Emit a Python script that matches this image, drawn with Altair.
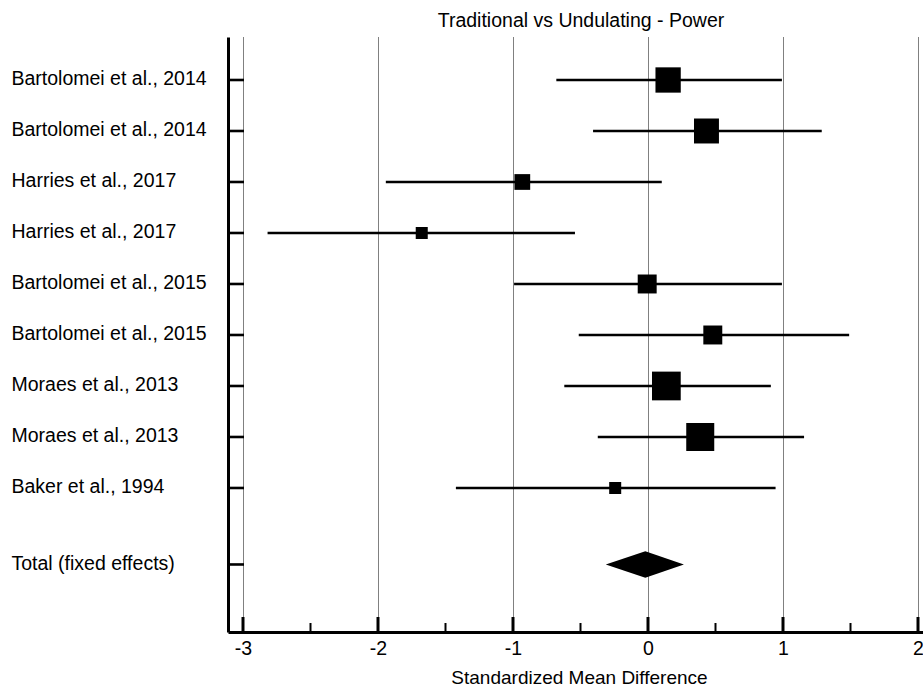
import altair as alt
import pandas as pd

# Study-level results: standardized mean difference with 95% CI and weight (%)
studies = [
    "Bartolomei et al., 2014",
    "Bartolomei et al., 2014",
    "Harries et al., 2017",
    "Harries et al., 2017",
    "Bartolomei et al., 2015",
    "Bartolomei et al., 2015",
    "Moraes et al., 2013",
    "Moraes et al., 2013",
    "Baker et al., 1994",
]
smd = [0.149, 0.433, -0.931, -1.676, -0.006, 0.480, 0.136, 0.387, -0.243]
ci_low = [-0.679, -0.407, -1.942, -2.818, -0.992, -0.513, -0.620, -0.372, -1.423]
ci_high = [0.992, 1.287, 0.102, -0.541, 0.992, 1.490, 0.910, 1.156, 0.945]
weights = [15.5, 15.1, 6.0, 3.5, 8.7, 8.7, 20.0, 19.0, 3.5]

# Pooled estimate
total_label = "Total (fixed effects)"
total_smd = -0.020
total_low = -0.313
total_high = 0.266

# Axis ticks
x_major = [-3, -2, -1, 0, 1, 2]
x_minor = [-2.5, -1.5, -0.5, 0.5, 1.5]

FONT = "Liberation Sans"
FS = 19.5
W, H = 695, 595
PX_PER_UNIT = 135  # whole pixels per unit keeps the dotted grid crisp

# Row positions: one row per study, the pooled row sits one and a half rows below
rows = list(range(1, len(studies) + 1))
total_row = len(studies) + 1.5
label_rows = rows + [total_row]
label_names = studies + [total_label]

studies_df = pd.DataFrame({
    "row": rows, "study": studies, "smd": smd,
    "lo": ci_low, "hi": ci_high, "weight": weights,
})

half_h = 0.26  # half height of the pooled diamond, in rows
diamond_df = pd.DataFrame({
    "x": [total_low, total_smd, total_high],
    "top": [total_row, total_row - half_h, total_row],
    "bot": [total_row, total_row + half_h, total_row],
})

ticks_df = pd.DataFrame({"row": label_rows})
major_df = pd.DataFrame({"v": x_major})
minor_df = pd.DataFrame({"v": x_minor})

x_min = -3 - 15 / PX_PER_UNIT
x_max = x_min + W / PX_PER_UNIT
x_scale = alt.Scale(domain=[x_min, x_max], nice=False, zero=False)
y_scale = alt.Scale(domain=[0.157, 11.824], nice=False, zero=False, reverse=True)

x_axis = alt.Axis(
    values=x_major, grid=True, gridColor="black", gridDash=[1, 1], gridWidth=1,
    ticks=False, tickSize=0, domainColor="black", domainWidth=3,
    labelExpr="'' + datum.value", labelFont=FONT, labelFontSize=FS, labelColor="black",
    labelBaseline="alphabetic", labelPadding=22, labelFlush=False, labelBound=False,
    labelOverlap=False,
    title="Standardized Mean Difference", titleFont=FONT, titleFontSize=19,
    titleFontWeight="normal", titleColor="black", titleX=351, titleY=51,
    titleAlign="center", titleBaseline="alphabetic",
)

label_expr = " : ".join(
    f"datum.value == {r} ? '{n}'" for r, n in zip(label_rows, label_names)
) + " : ''"

y_axis = alt.Axis(
    values=label_rows, grid=False, ticks=False, tickSize=0,
    domainColor="black", domainWidth=3,
    labelExpr=label_expr, labelFont=FONT, labelFontSize=FS, labelColor="black",
    labelAlign="left", labelBaseline="alphabetic", labelPadding=217, labelOffset=5,
    labelOverlap=False, labelBound=False, labelFlush=False, labelLimit=0, title=None,
)


def xe(field):
    return alt.X(field, type="quantitative", scale=x_scale, axis=x_axis)


def ye(field):
    return alt.Y(field, type="quantitative", scale=y_scale, axis=y_axis)


ci = alt.Chart(studies_df).mark_rule(color="black", strokeWidth=2.4).encode(
    x=xe("lo"), x2="hi", y=ye("row")
)

squares = alt.Chart(studies_df).mark_square(color="black", opacity=1, filled=True).encode(
    x=xe("smd"), y=ye("row"),
    size=alt.Size("weight:Q", scale=alt.Scale(domain=[0, 20], range=[0, 826]), legend=None),
)

diamond = alt.Chart(diamond_df).mark_area(color="black", orient="vertical", opacity=1).encode(
    x=xe("x"), y=ye("top"), y2="bot"
)

y_ticks = alt.Chart(ticks_df).mark_rule(color="black", strokeWidth=2.6).encode(
    y=ye("row"), x=alt.value(0), x2=alt.value(16)
)

major_ticks = alt.Chart(major_df).mark_rule(color="black", strokeWidth=3).encode(
    x=xe("v"), y=alt.value(H), y2=alt.value(H - 15)
)

minor_ticks = alt.Chart(minor_df).mark_rule(color="black", strokeWidth=2).encode(
    x=xe("v"), y=alt.value(H), y2=alt.value(H - 9)
)

chart = alt.layer(
    ci, squares, diamond, y_ticks, major_ticks, minor_ticks
).properties(
    width=W,
    height=H,
    autosize=alt.AutoSizeParams(type="none"),
    padding={"left": 228, "top": 37, "right": 0, "bottom": 55},
    background="white",
    title=alt.TitleParams(
        text="Traditional vs Undulating - Power", font=FONT, fontSize=FS,
        fontWeight="normal", color="black", anchor="middle", frame="group",
        dx=5.5, dy=19, offset=10, baseline="alphabetic",
    ),
).configure_view(stroke=None)

chart.save("out.html", embed_options={"renderer": "svg", "actions": False})
